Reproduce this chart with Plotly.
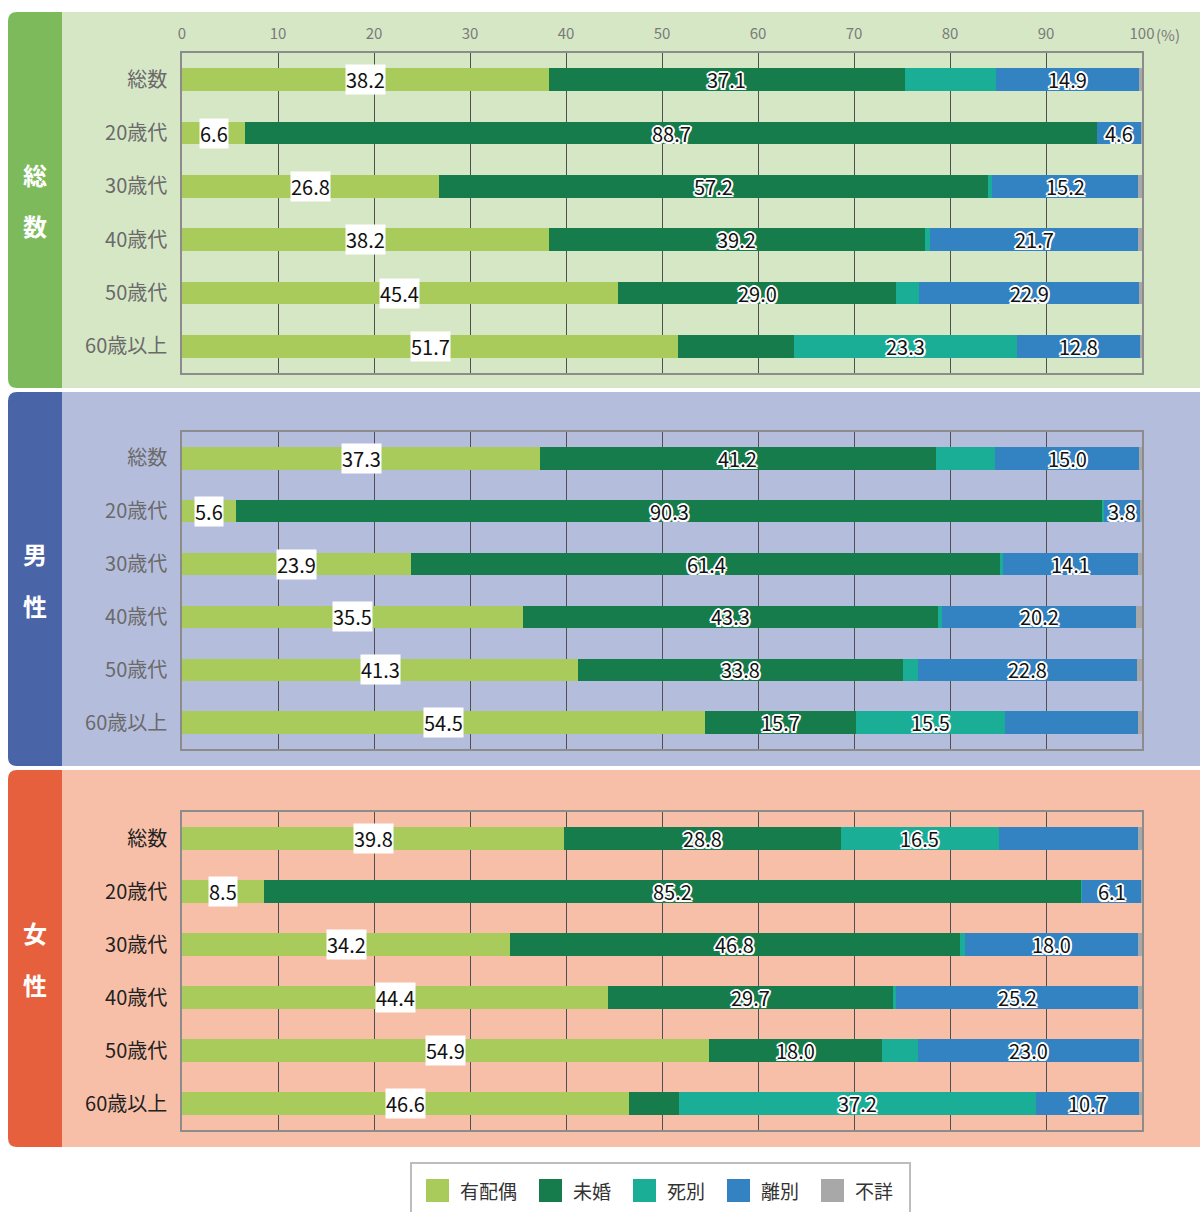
import plotly.graph_objects as go

# ---- data -------------------------------------------------------------
age_groups = ["総数", "20歳代", "30歳代", "40歳代", "50歳代", "60歳以上"]
statuses = ["有配偶", "未婚", "死別", "離別", "不詳"]
status_colors = ["#a8cb5b", "#177c4b", "#1bae97", "#3382c2", "#a8a8a8"]

# values per panel, one list per status (order of age_groups), in %
total_married = [38.2, 6.6, 26.8, 38.2, 45.4, 51.7]
total_single = [37.1, 88.7, 57.2, 39.2, 29.0, 12.0]
total_widowed = [9.5, 0.0, 0.4, 0.5, 2.4, 23.3]
total_divorced = [14.9, 4.6, 15.2, 21.7, 22.9, 12.8]
total_unknown = [0.3, 0.1, 0.4, 0.4, 0.3, 0.2]

male_married = [37.3, 5.6, 23.9, 35.5, 41.3, 54.5]
male_single = [41.2, 90.3, 61.4, 43.3, 33.8, 15.7]
male_widowed = [6.2, 0.1, 0.2, 0.4, 1.6, 15.5]
male_divorced = [15.0, 3.8, 14.1, 20.2, 22.8, 13.9]
male_unknown = [0.3, 0.2, 0.4, 0.6, 0.5, 0.4]

female_married = [39.8, 8.5, 34.2, 44.4, 54.9, 46.6]
female_single = [28.8, 85.2, 46.8, 29.7, 18.0, 5.2]
female_widowed = [16.5, 0.1, 0.6, 0.3, 3.8, 37.2]
female_divorced = [14.5, 6.1, 18.0, 25.2, 23.0, 10.7]
female_unknown = [0.4, 0.1, 0.4, 0.4, 0.3, 0.3]

panel_titles = ["総数", "男性", "女性"]
panel_values = [
    [total_married, total_single, total_widowed, total_divorced, total_unknown],
    [male_married, male_single, male_widowed, male_divorced, male_unknown],
    [female_married, female_single, female_widowed, female_divorced, female_unknown],
]
# which statuses carry a value label, per age group
labeled_statuses = [
    [(0, 1, 3), (0, 1, 3), (0, 1, 3), (0, 1, 3), (0, 1, 3), (0, 2, 3)],
    [(0, 1, 3), (0, 1, 3), (0, 1, 3), (0, 1, 3), (0, 1, 3), (0, 1, 2)],
    [(0, 1, 2), (0, 1, 3), (0, 1, 3), (0, 1, 3), (0, 1, 3), (0, 2, 3)],
]
x_ticks = [0, 10, 20, 30, 40, 50, 60, 70, 80, 90, 100]

# ---- layout constants (pixels) ------------------------------------------
W, H = 1200, 1212
FONT = "Noto Sans CJK JP"
PLOT_X0, PLOT_X1 = 182, 1142
plot_rows = [(53, 373), (432, 749), (812, 1130)]
panel_rows = [(12, 388), (392, 766), (770, 1147)]
band_colors = ["#7dba5b", "#4a64a8", "#e6603d"]
panel_bg = ["#d6e7c6", "#b5bddd", "#f7bfa7"]
tick_colors = ["#6a6a6a", "#6a6a6a", "#222222"]
OUTLINE = ("1.5px 1.5px 0 #fff, -1.5px -1.5px 0 #fff, 1.5px -1.5px 0 #fff, "
           "-1.5px 1.5px 0 #fff, 0 2px 0 #fff, 0 -2px 0 #fff, 2px 0 0 #fff, -2px 0 0 #fff")


def px(x):
    return x / W


def py(y):
    return 1 - y / H


fig = go.Figure()
shapes = []
annotations = []

for p in range(3):
    xa = "x" if p == 0 else f"x{p + 1}"
    ya = "y" if p == 0 else f"y{p + 1}"
    top, bottom = panel_rows[p]

    # panel background and coloured side band with rounded left corners
    shapes.append(dict(type="rect", xref="paper", yref="paper", layer="below",
                       x0=px(62), x1=px(W), y0=py(bottom), y1=py(top),
                       fillcolor=panel_bg[p], line=dict(width=0)))
    r = 9
    bx0, bx1 = 8, 62
    path = (f"M {px(bx1)},{py(top)} L {px(bx0 + r)},{py(top)} "
            f"Q {px(bx0)},{py(top)} {px(bx0)},{py(top + r)} "
            f"L {px(bx0)},{py(bottom - r)} "
            f"Q {px(bx0)},{py(bottom)} {px(bx0 + r)},{py(bottom)} "
            f"L {px(bx1)},{py(bottom)} Z")
    shapes.append(dict(type="path", xref="paper", yref="paper", layer="below",
                       path=path, fillcolor=band_colors[p], line=dict(width=0)))
    mid = (top + bottom) / 2
    for k, ch in enumerate(panel_titles[p]):
        annotations.append(dict(xref="paper", yref="paper", x=px(35),
                                y=py(mid - 26 + 52 * k), text=f"<b>{ch}</b>",
                                xanchor="center", yanchor="middle",
                                showarrow=False,
                                font=dict(family=FONT, size=24, color="white")))

    # stacked bars
    for s, name in enumerate(statuses):
        fig.add_trace(go.Bar(
            y=age_groups, x=panel_values[p][s], orientation="h", name=name,
            marker=dict(color=status_colors[s], line=dict(width=0)),
            xaxis=xa, yaxis=ya, showlegend=False, hoverinfo="x+y+name"))

    # value labels at segment centres
    for g, grp in enumerate(age_groups):
        start = 0.0
        for s in range(len(statuses)):
            v = panel_values[p][s][g]
            if s in labeled_statuses[p][g]:
                common = dict(xref=xa, yref=ya, x=start + v / 2, y=grp,
                              xanchor="center", yanchor="middle",
                              text=f"{v:.1f}", showarrow=False)
                if s == 0:
                    annotations.append(dict(**common, bgcolor="white", borderpad=0,
                                            font=dict(family=FONT, size=20, color="#111")))
                else:
                    annotations.append(dict(**common,
                                            font=dict(family=FONT, size=20, color="#111",
                                                      shadow=OUTLINE)))
            start += v

    y0, y1 = plot_rows[p]
    xkey = "xaxis" if p == 0 else f"xaxis{p + 1}"
    ykey = "yaxis" if p == 0 else f"yaxis{p + 1}"
    fig.update_layout({
        xkey: dict(domain=[px(PLOT_X0), px(PLOT_X1)], range=[0, 100],
                   anchor=ya, side="top", tickvals=x_ticks,
                   ticktext=[str(t) for t in x_ticks],
                   showticklabels=(p == 0), ticks="", ticklabelstandoff=6,
                   tickfont=dict(family=FONT, size=15, color="#7a7a7a"),
                   showgrid=True, gridcolor="#505050", gridwidth=1,
                   showline=True, linecolor="#8c8c8c", linewidth=1.5, mirror=True,
                   zeroline=False, fixedrange=True, automargin=False),
        ykey: dict(domain=[py(y1), py(y0)], anchor=xa, autorange="reversed",
                   type="category", ticks="", ticklabelstandoff=9,
                   tickfont=dict(family=FONT, size=20, color=tick_colors[p]),
                   showgrid=False, showline=True, linecolor="#8c8c8c",
                   linewidth=1.5, mirror=True, zeroline=False, fixedrange=True,
                   automargin=False),
    })

# percent unit next to the 100 tick
annotations.append(dict(xref="paper", yref="paper", x=px(1154), y=py(35),
                        xanchor="left", yanchor="middle", text="(%)", showarrow=False,
                        font=dict(family=FONT, size=15, color="#7a7a7a")))

# legend box drawn along the bottom
shapes.append(dict(type="rect", xref="paper", yref="paper",
                   x0=px(411), x1=px(910), y0=py(1214), y1=py(1163),
                   fillcolor="white", line=dict(color="#bdbdbd", width=2)))
lx = 426
for name, col in zip(statuses, status_colors):
    shapes.append(dict(type="rect", xref="paper", yref="paper",
                       x0=px(lx), x1=px(lx + 23), y0=py(1202), y1=py(1179),
                       fillcolor=col, line=dict(width=0)))
    annotations.append(dict(xref="paper", yref="paper", x=px(lx + 32), y=py(1190),
                            xanchor="left", yanchor="middle", text=name,
                            showarrow=False,
                            font=dict(family=FONT, size=19, color="#333")))
    lx += 23 + 10 + 19 * len(name) + 23

fig.update_layout(
    width=W, height=H, margin=dict(l=0, r=0, t=0, b=0, pad=0), autosize=False,
    paper_bgcolor="white", plot_bgcolor="white",
    barmode="stack", bargap=0.58,
    shapes=shapes, annotations=annotations, showlegend=False,
    font=dict(family=FONT),
)

fig.write_html(
    "out.html",
    config={"responsive": False, "displayModeBar": False},
    post_script=("document.body.style.margin='0';"
                 "document.body.style.overflow='hidden';"
                 "document.documentElement.style.overflow='hidden';"),
)
